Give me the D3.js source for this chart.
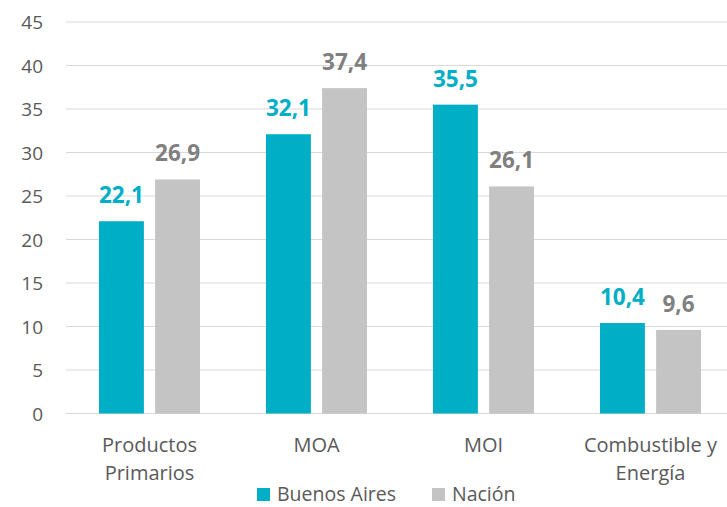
<!DOCTYPE html>
<html>
<head>
<meta charset="utf-8">
<script src="https://cdn.jsdelivr.net/npm/d3@7"></script>
<style>
  html, body { margin: 0; padding: 0; background: #fff; }
  svg { display: block; font-family: "Open Sans", sans-serif; }
</style>
</head>
<body>
<svg id="chart" width="727" height="507"></svg>
<script>
const categories = ["Productos Primarios", "MOA", "MOI", "Combustible y Energía"];
const seriesNames = ["Buenos Aires", "Nación"];
const buenosAires = [22.1, 32.1, 35.5, 10.4];
const nacion = [26.9, 37.4, 26.1, 9.6];
const yTicks = [0, 5, 10, 15, 20, 25, 30, 35, 40, 45];
const colors = ["#00AEC6", "#C4C4C4"];
const labelColors = ["#00AEC6", "#808080"];

(function () {
const values = [buenosAires, nacion];
const data = categories.map((c, i) => ({
  category: c,
  values: seriesNames.map((s, j) => ({ series: s, value: values[j][i], idx: j }))
}));

const svg = d3.select("#chart");
const mLeft = 66, mRight = 734, mTop = 22, mBottom = 413.5;

const x0 = d3.scaleBand().domain(categories).range([mLeft, mRight]).padding(0);
const x1 = d3.scaleBand().domain(seriesNames).range([33, 134]).paddingInner(0.2);
const y = d3.scaleLinear().domain([0, 45]).range([mBottom, mTop]);

// gridlines
svg.append("g").selectAll("line").data(yTicks).join("line")
  .attr("x1", mLeft).attr("x2", 727)
  .attr("y1", d => y(d)).attr("y2", d => y(d))
  .attr("stroke", "#D9D9D9").attr("stroke-width", 1.2);

// y axis labels
const yAxis = d3.axisLeft(y).tickValues(yTicks).tickSize(0).tickPadding(0);
const ya = svg.append("g").attr("transform", `translate(43,0)`).call(yAxis);
ya.select(".domain").remove();
ya.selectAll("text").attr("font-size", 19).attr("fill", "#595959")
  .attr("font-family", "Open Sans, sans-serif").attr("dy", "0.35em");

// bars
const groups = svg.append("g").selectAll("g").data(data).join("g")
  .attr("transform", d => `translate(${x0(d.category)},0)`);

groups.selectAll("rect").data(d => d.values).join("rect")
  .attr("x", d => x1(d.series))
  .attr("width", x1.bandwidth())
  .attr("y", d => y(d.value))
  .attr("height", d => y(0) - y(d.value))
  .attr("fill", d => colors[d.idx]);

groups.selectAll("text.val").data(d => d.values).join("text")
  .attr("class", "val")
  .attr("x", d => x1(d.series) + x1.bandwidth() / 2)
  .attr("y", d => y(d.value) - 18)
  .attr("text-anchor", "middle")
  .attr("font-size", 22.5).attr("font-weight", "bold")
  .attr("fill", d => labelColors[d.idx])
  .text(d => d3.format(".1f")(d.value).replace(".", ","));

// x axis category labels with wrapping
const fs = 20;
const xa = svg.append("g");
categories.forEach(c => {
  const words = c.split(" ");
  const lines = [];
  let line = [];
  const measure = xa.append("text").attr("font-size", fs);
  words.forEach(w => {
    const test = line.concat([w]).join(" ");
    measure.text(test);
    if (measure.node().getComputedTextLength() > 155 && line.length) {
      lines.push(line.join(" "));
      line = [w];
    } else line.push(w);
  });
  lines.push(line.join(" "));
  measure.remove();
  const cx = x0(c) + (x1.range()[0] + x1.range()[1]) / 2;
  const t = xa.append("text").attr("text-anchor", "middle")
    .attr("font-size", fs).attr("fill", "#595959");
  lines.forEach((l, i) => {
    t.append("tspan").attr("x", cx).attr("y", 452 + i * 28).text(l);
  });
});

// legend
const legend = svg.append("g");
const legendX = [257, 432];
seriesNames.forEach((s, i) => {
  legend.append("rect").attr("x", legendX[i]).attr("y", 488)
    .attr("width", 13).attr("height", 13).attr("fill", colors[i]);
  legend.append("text").attr("x", legendX[i] + 20).attr("y", 501)
    .attr("font-size", 19.5).attr("fill", "#595959").text(s);
});
})();
</script>
</body>
</html>
